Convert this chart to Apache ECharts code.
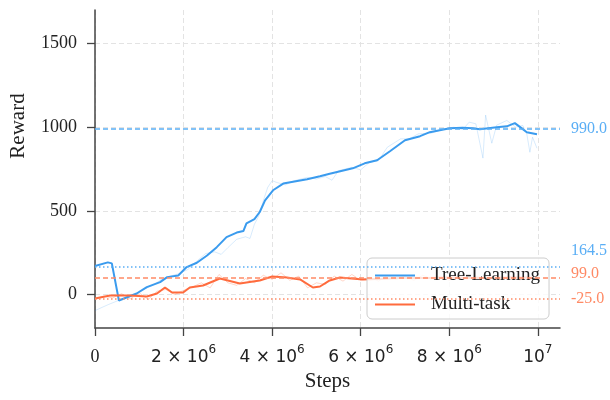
<!DOCTYPE html>
<html>
<head>
<meta charset="utf-8">
<script src="https://cdn.jsdelivr.net/npm/echarts@6/dist/echarts.min.js"></script>
<style>html,body{margin:0;padding:0;background:#fff}#c{width:610px;height:400px}</style>
</head>
<body>
<div id="c"></div>
<script>
// ---- data (steps in millions) ----
const STEP_UNIT = 1e6;
const treeSteps  = [0, 0.29, 0.38, 0.54, 0.94, 1.17, 1.47, 1.63, 1.88, 2.07, 2.3, 2.53, 2.75, 2.97, 3.2, 3.35, 3.42, 3.6, 3.72, 3.84, 4.02, 4.25, 4.79, 5.08, 5.3, 5.82, 6.09, 6.37, 6.66, 7.0, 7.34, 7.56, 8.01, 8.3, 8.53, 8.69, 9.07, 9.3, 9.48, 9.6, 9.75, 9.98];
const treeReward = [170, 192, 186, -36, 6, 44, 74, 104, 114, 164, 190, 233, 283, 343, 370, 379, 425, 450, 493, 563, 623, 663, 689, 707, 722, 754, 784, 802, 856, 922, 946, 970, 994, 996, 994, 988, 1000, 1005, 1024, 1000, 970, 958];
const treeRawSteps  = [0, 0.3, 0.6, 0.9, 1.1, 1.3, 1.5, 1.7, 1.9, 2.1, 2.3, 2.5, 2.7, 2.85, 3.0, 3.2, 3.4, 3.5, 3.6, 3.7, 3.8, 3.9, 4.0, 4.1, 4.3, 4.5, 4.8, 5.0, 5.2, 5.35, 5.5, 5.8, 6.0, 6.2, 6.4, 6.6, 6.9, 7.1, 7.3, 7.6, 7.9, 8.1, 8.3, 8.45, 8.6, 8.76, 8.82, 8.96, 9.07, 9.3, 9.5, 9.66, 9.75, 9.82, 9.88, 9.98];
const treeRawReward = [-96, -60, -28, 0, 30, 55, 90, 110, 125, 150, 200, 245, 255, 240, 280, 330, 345, 335, 420, 470, 560, 640, 680, 670, 655, 680, 700, 690, 705, 683, 740, 760, 745, 790, 800, 880, 930, 930, 960, 965, 990, 1000, 985, 1030, 1020, 815, 1072, 904, 1012, 1040, 1000, 1010, 960, 850, 940, 874];
const multiSteps  = [0, 0.34, 0.79, 1.17, 1.4, 1.58, 1.74, 1.99, 2.14, 2.44, 2.82, 3.27, 3.72, 4.0, 4.33, 4.63, 4.92, 5.08, 5.3, 5.53, 6.05, 6.5, 7.0, 7.5, 8.0, 8.5, 9.0, 9.5, 10.0];
const multiReward = [-24, -6, -6, -12, 6, 42, 12, 12, 42, 54, 96, 66, 84, 108, 102, 90, 42, 48, 84, 102, 90, 95, 100, 98, 102, 98, 100, 102, 100];
const multiRawSteps  = [0, 0.2, 0.4, 0.6, 0.8, 1.0, 1.2, 1.4, 1.6, 1.8, 2.0, 2.2, 2.4, 2.6, 2.8, 3.0, 3.2, 3.4, 3.6, 3.8, 4.0, 4.2, 4.4, 4.6, 4.8, 5.0, 5.2, 5.4, 5.6, 5.8, 6.0, 6.2, 6.4, 6.6, 6.8, 7.0, 7.2, 7.4, 7.6, 7.8, 8.0, 8.2, 8.4, 8.6, 8.8, 9.0, 9.2, 9.4, 9.6, 9.8, 10.0];
const multiRawReward = [-30, -10, -20, 5, -25, 10, -30, 20, 30, 0, 25, 45, 70, 40, 120, 70, 55, 95, 70, 115, 90, 130, 85, 110, 40, 70, 60, 110, 80, 120, 85, 105, 80, 115, 90, 110, 85, 115, 95, 110, 85, 115, 90, 110, 95, 120, 90, 110, 85, 115, 95];
const treeRefMax = 990.0, treeRefStart = 164.5;
const multiRefMax = 99.0, multiRefMin = -25.0;
const xTicks = [0, 2, 4, 6, 8, 10];
const yTicks = [0, 500, 1000, 1500];
const xRange = [0, 10.5], yRange = [-200, 1700];

const BLUE = '#3a9bee', BLUE_L = '#5aaef5';
const ORANGE = '#ff6b3d', ORANGE_L = '#ff8a65';
const SERIF = '"Liberation Serif","Times New Roman",serif';
const SANS = '"DejaVu Sans",sans-serif';

const pairs = (xs, ys) => xs.map((x, i) => [x * STEP_UNIT, ys[i]]);

function xLabel(v) {
  const m = Math.round(v / STEP_UNIT);
  if (m === 0) return '{s|0}';
  if (m === 10) return '{n|10}{p|7}';
  return '{n|' + m + ' × 10}{p|6}';
}

const chart = echarts.init(document.getElementById('c'), null, {renderer: 'canvas'});
const gridLine = {show: true, lineStyle: {color: '#e3e3e3', type: [5, 3], width: 1}};
chart.setOption({
  animation: false,
  grid: {left: 95, right: 50, top: 10, bottom: 72, containLabel: false, outerBoundsMode: 'none'},
  xAxis: {
    type: 'value', min: xRange[0] * STEP_UNIT, max: xRange[1] * STEP_UNIT,
    name: 'Steps', nameLocation: 'middle', nameGap: 37,
    nameTextStyle: {fontFamily: SERIF, fontSize: 21, color: '#222'},
    axisLine: {onZero: false, lineStyle: {color: '#444', width: 1.5}},
    axisTick: {show: true, length: 8, lineStyle: {color: '#444', width: 1.3}, customValues: xTicks.map(v => v * STEP_UNIT)},
    axisLabel: {margin: 16, customValues: xTicks.map(v => v * STEP_UNIT), formatter: xLabel,
      rich: {
        s: {fontFamily: SERIF, fontSize: 18, color: '#222', lineHeight: 22, verticalAlign: 'bottom'},
        n: {fontFamily: SANS, fontSize: 17, color: '#222', lineHeight: 22, verticalAlign: 'bottom'},
        p: {fontFamily: SANS, fontSize: 12, color: '#222', lineHeight: 12, verticalAlign: 'top'}
      }},
    splitLine: gridLine
  },
  yAxis: {
    type: 'value', min: yRange[0], max: yRange[1],
    name: 'Reward', nameLocation: 'middle', nameGap: 66,
    nameTextStyle: {fontFamily: SERIF, fontSize: 21, color: '#222', padding: [0, 0, 0, 86]},
    axisLine: {show: true, onZero: false, lineStyle: {color: '#444', width: 1.5}},
    axisTick: {show: true, length: 8, lineStyle: {color: '#444', width: 1.3}, customValues: yTicks},
    axisLabel: {margin: 18, customValues: yTicks, formatter: v => String(v), fontFamily: SERIF, fontSize: 18, color: '#222'},
    splitLine: gridLine
  },
  legend: {
    orient: 'vertical', left: 367, top: 258,
    data: [{name: 'Tree-Learning', icon: 'rect'}, {name: 'Multi-task', icon: 'rect'}],
    itemWidth: 40, itemHeight: 2, itemGap: 10,
    padding: [8, 9, 5, 8],
    backgroundColor: 'rgba(255,255,255,0.8)', borderColor: '#cccccc', borderWidth: 1, borderRadius: 5,
    textStyle: {fontFamily: SERIF, fontSize: 19, color: '#222', lineHeight: 19, padding: [0, 0, 0, 11]}
  },
  series: [
    {name: 'Tree-Learning raw', type: 'line', data: pairs(treeRawSteps, treeRawReward), showSymbol: false, symbol: 'none',
      lineStyle: {color: BLUE, width: 1, opacity: 0.2}, z: 1, silent: true},
    {name: 'Multi-task raw', type: 'line', data: pairs(multiRawSteps, multiRawReward), showSymbol: false, symbol: 'none',
      lineStyle: {color: ORANGE, width: 1, opacity: 0.28}, z: 1, silent: true},
    {name: 'Tree-Learning', type: 'line', data: pairs(treeSteps, treeReward), showSymbol: false, symbol: 'none',
      color: BLUE, lineStyle: {color: BLUE, width: 2}, z: 3,
      markLine: {silent: true, symbol: 'none', animation: false, label: {show: false},
        data: [
          {yAxis: treeRefMax, lineStyle: {color: BLUE_L, type: [5, 3], width: 1.5}},
          {yAxis: treeRefStart, lineStyle: {color: BLUE_L, type: [1.5, 2.5], width: 1.5}}
        ]}},
    {name: 'Multi-task', type: 'line', data: pairs(multiSteps, multiReward), showSymbol: false, symbol: 'none',
      color: ORANGE, lineStyle: {color: ORANGE, width: 2}, z: 3,
      markLine: {silent: true, symbol: 'none', animation: false, label: {show: false},
        data: [
          {yAxis: multiRefMax, lineStyle: {color: ORANGE_L, type: [5, 3], width: 1.5}},
          {yAxis: multiRefMin, lineStyle: {color: ORANGE_L, type: [1.5, 2.5], width: 1.5}}
        ]}}
  ]
});

// right-hand value labels, placed through the chart's own scales
const refLabels = [
  {v: treeRefMax, color: BLUE_L, dy: 0},
  {v: treeRefStart, color: BLUE_L, dy: -16},
  {v: multiRefMax, color: ORANGE_L, dy: -4},
  {v: multiRefMin, color: ORANGE_L, dy: 0}
];
const xEnd = chart.convertToPixel({xAxisIndex: 0}, xRange[1] * STEP_UNIT);
chart.setOption({
  graphic: refLabels.map(r => ({
    type: 'text', x: xEnd + 11, y: chart.convertToPixel({yAxisIndex: 0}, r.v) + r.dy,
    silent: true,
    style: {text: r.v.toFixed(1), fill: r.color, font: '16px ' + SERIF, textVerticalAlign: 'middle', textAlign: 'left'}
  }))
});
</script>
</body>
</html>
